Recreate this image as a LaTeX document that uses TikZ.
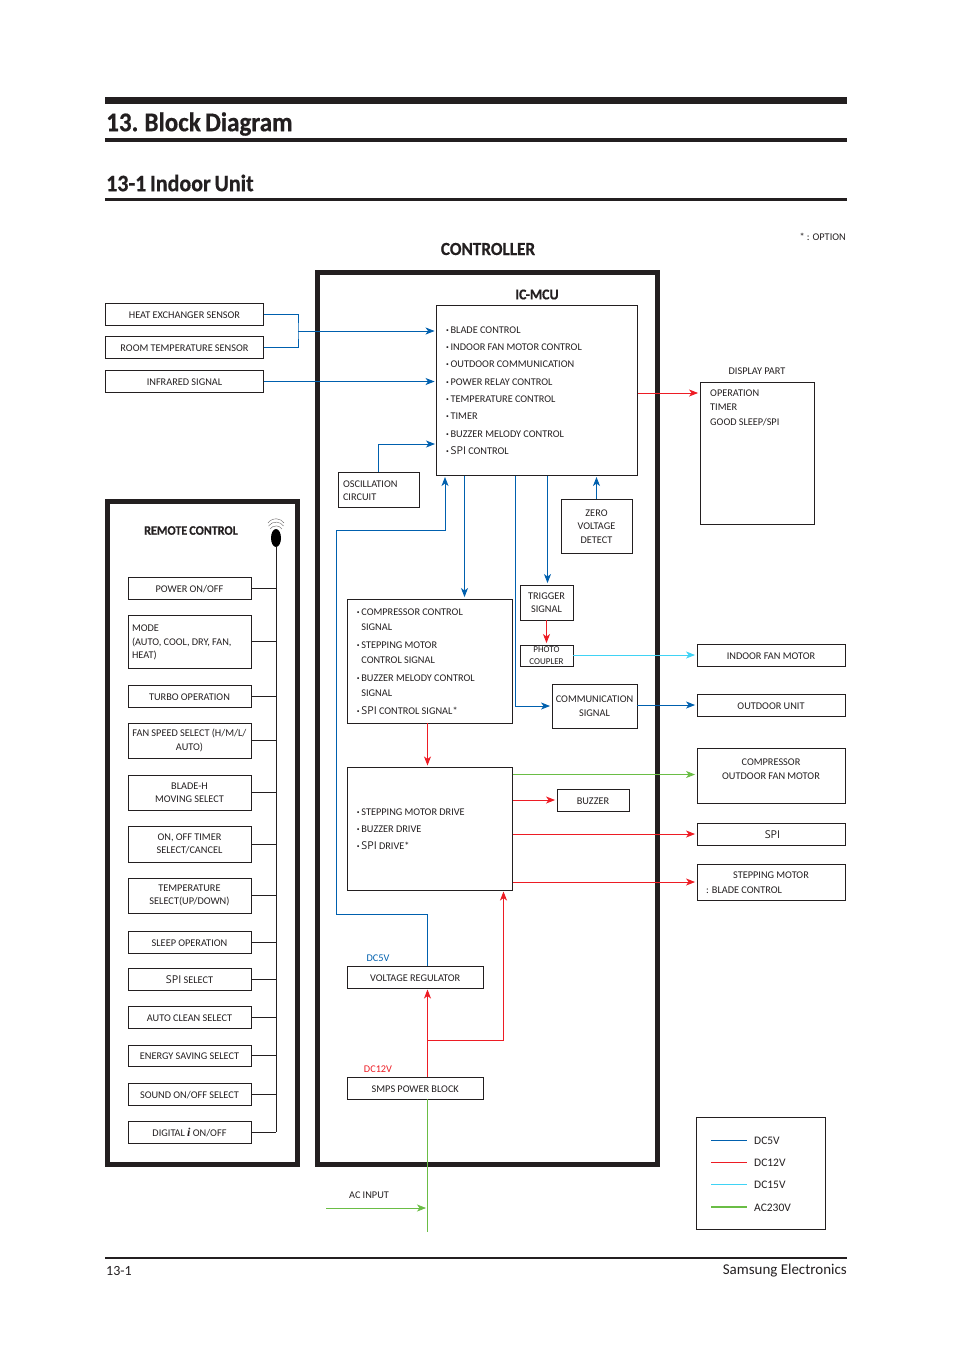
\documentclass[tikz,border=0pt]{standalone}
\usepackage{fontspec}
\setmainfont[WordSpace=0.95]{Carlito}
\newfontfamily\headfont[BoldFeatures={FakeStretch=0.93,FakeBold=0.5},WordSpace=0.75]{Carlito}
\newfontfamily\spifont{Open Sans}
\newfontfamily\serifi{Liberation Serif}
\usetikzlibrary{arrows.meta,shapes.geometric}

\definecolor{inkline}{HTML}{231F20}
\definecolor{dcfive}{HTML}{0060AE}
\definecolor{dctwelve}{HTML}{ED1C24}
\definecolor{dcfifteen}{HTML}{3FD3F5}
\definecolor{acline}{HTML}{6ABD45}

\newcommand{\spitxt}{{\spifont\fontsize{10.8}{12}\selectfont SPI}}
\newcommand{\itm}{\makebox[4.6pt][l]{\textbf{·}}}

\tikzset{
  sig/.style={line width=0.9pt,shorten >=1.5pt,-{Stealth[length=9pt,width=7pt,inset=2.5pt]}},
  lbl/.style={inner sep=0pt,text=inkline,font=\fontsize{10.3}{13.5}\selectfont},
  head lbl/.style={inner sep=0pt,text=inkline,font=\headfont\bfseries\fontsize{#1}{#1}\selectfont},
  flat node/.style={draw=inkline,line width=0.9pt,inner sep=1pt,align=center,text=inkline,font=\fontsize{10.3}{13.5}\selectfont},
  box node/.style={flat node,execute at begin node={\rule{0pt}{9pt}}},
  sensor node/.style={box node,minimum width=158pt,minimum height=22pt},
  remote node/.style={box node,minimum width=123pt},
  load node/.style={box node,minimum width=148pt},
  frame node/.style={draw=inkline,line width=5pt,inner sep=0pt},
  legend lbl/.style={lbl,anchor=west,font=\fontsize{11.5}{13}\selectfont,execute at begin node={\rule{0pt}{10pt}}},
  tap/.style={line width=0.9pt,draw=inkline}
}

\begin{document}
\begin{tikzpicture}[x=1pt,y=-1pt]
  \useasboundingbox (0,0) rectangle (954,1350);

  \fill[inkline] (105,97) rectangle (847,104);
  \fill[inkline] (105,138) rectangle (847,142);
  \fill[inkline] (105,197.5) rectangle (847,200.5);
  \fill[inkline] (105,1257.2) rectangle (847,1259.2);
  \node[head lbl=27,anchor=west] (title) at (106,124) {13. Block Diagram};
  \node[head lbl=23.6,anchor=west] (subtitle) at (106,183) {13-1 Indoor Unit};
  \node[lbl,anchor=west,font=\fontsize{14}{17}\selectfont] (pageno) at (106,1271) {13-1};
  \node[lbl,anchor=east,font=\fontsize{15}{17}\selectfont] (company) at (847,1271) {Samsung Electronics};
  \node[lbl,anchor=east] (option) at (846,237) {* : OPTION};

  \node[head lbl=18.5] (ctrltitle) at (488,249) {CONTROLLER};
  \node[frame node,minimum width=340pt,minimum height=892pt] (controller) at (487.5,718.5) {};
  \node[frame node,minimum width=190pt,minimum height=663pt] (remote) at (202.5,833) {};

  \node[sensor node] (heat) at (184.5,314.5) {HEAT EXCHANGER SENSOR};
  \node[sensor node] (room) at (184.5,347.5) {ROOM TEMPERATURE SENSOR};
  \node[sensor node] (infrared) at (184.5,381.5) {INFRARED SIGNAL};

  \node[head lbl=15] (mcutitle) at (537,294.5) {IC-MCU};
  \node[flat node,align=flush left,text width=182pt,inner xsep=9.5pt,inner ysep=0pt,minimum height=170pt,font=\fontsize{10.3}{17.3}\selectfont] (mcu) at (537,390.5) {\itm BLADE CONTROL\\
    \itm INDOOR FAN MOTOR CONTROL\\
    \itm OUTDOOR COMMUNICATION\\
    \itm POWER RELAY CONTROL\\
    \itm TEMPERATURE CONTROL\\
    \itm TIMER\\
    \itm BUZZER MELODY CONTROL\\
    \itm \spitxt\ CONTROL};
  \node[box node,align=flush left,text width=71pt,inner xsep=5pt,minimum height=35pt] (osc) at (378.5,489.5) {OSCILLATION\\CIRCUIT};
  \node[box node,minimum width=71pt,minimum height=54.5pt] (zero) at (596.5,526.5) {ZERO\\VOLTAGE\\DETECT};
  \node[box node,minimum width=53pt,minimum height=35pt] (trigger) at (546.5,602.5) {TRIGGER\\SIGNAL};
  \node[flat node,minimum width=53pt,minimum height=21.5pt,inner sep=0pt,font=\fontsize{9}{12}\selectfont] (photo) at (546.5,655.75) {PHOTO\\COUPLER};
  \node[box node,minimum width=85pt,minimum height=44pt] (comm) at (594.5,706) {COMMUNICATION\\SIGNAL};
  \node[box node,align=flush left,text width=146pt,inner xsep=9.75pt,inner ysep=0pt,minimum height=124pt,font=\fontsize{10.3}{15}\selectfont] (signals) at (429.75,661) {\itm COMPRESSOR CONTROL\\
    \hspace*{4.6pt}SIGNAL\\[3pt]
    \itm STEPPING MOTOR\\
    \hspace*{4.6pt}CONTROL SIGNAL\\[3pt]
    \itm BUZZER MELODY CONTROL\\
    \hspace*{4.6pt}SIGNAL\\[3pt]
    \itm \spitxt\ CONTROL SIGNAL*};
  \node[box node,align=flush left,text width=146pt,inner xsep=9.75pt,inner ysep=0pt,minimum height=123pt,font=\fontsize{10.3}{17}\selectfont] (drive) at (429.75,828.5) {\itm STEPPING MOTOR DRIVE\\
    \itm BUZZER DRIVE\\
    \itm \spitxt\ DRIVE*};
  \node[box node,minimum width=72pt,minimum height=22pt] (buzzer) at (593,800) {BUZZER};
  \node[box node,minimum width=136.5pt,minimum height=22pt] (regulator) at (415.25,977) {VOLTAGE REGULATOR};
  \node[box node,minimum width=136.5pt,minimum height=22pt] (smps) at (415.25,1088) {SMPS POWER BLOCK};
  \node[lbl,text=dcfive] (dcfivelbl) at (378,958) {DC5V};
  \node[lbl,text=dctwelve] (dctwelvelbl) at (378,1069) {DC12V};
  \node[lbl] (acinput) at (369,1195) {AC INPUT};

  \node[lbl] (displaylbl) at (757,371) {DISPLAY PART};
  \node[flat node,minimum width=114pt,minimum height=142pt] (display) at (757,453) {};
  \node[lbl,align=left,anchor=north west,font=\fontsize{10.3}{14.5}\selectfont] (displaytxt) at (710,389.5) {OPERATION\\TIMER\\GOOD SLEEP/SPI};
  \node[load node,minimum height=22pt] (fan) at (771,655) {INDOOR FAN MOTOR};
  \node[load node,minimum height=22pt] (outdoor) at (771,705) {OUTDOOR UNIT};
  \node[load node,minimum height=55pt] (compressor) at (771,775.5) {};
  \node[lbl,align=center,anchor=north] (compressortxt) at (771,759) {COMPRESSOR\\OUTDOOR FAN MOTOR};
  \node[load node,minimum height=22pt] (spi) at (771,834) {\hspace*{3pt}\spitxt};
  \node[load node,minimum height=36pt] (stepping) at (771,882) {};
  \node[lbl] (steppingtxt) at (771,875) {STEPPING MOTOR};
  \node[lbl,anchor=west] (bladetxt) at (706,890) {: BLADE CONTROL};

  \node[head lbl=13] (remotetitle) at (191,530.5) {REMOTE CONTROL};
  \node[remote node,minimum height=22pt] (power) at (189.5,588) {POWER ON/OFF};
  \node[remote node,align=flush left,text width=115pt,inner xsep=4pt,minimum height=53pt] (mode) at (189.5,641.5) {MODE\\(AUTO, COOL, DRY, FAN,\\HEAT)};
  \node[remote node,minimum height=22pt] (turbo) at (189.5,696) {TURBO OPERATION};
  \node[remote node,minimum height=35pt] (speed) at (189.5,740.5) {FAN SPEED SELECT (H/M/L/\\AUTO)};
  \node[remote node,minimum height=35pt] (blade) at (189.5,792.5) {BLADE-H\\MOVING SELECT};
  \node[remote node,minimum height=36pt] (timer) at (189.5,844) {ON, OFF TIMER\\SELECT/CANCEL};
  \node[remote node,minimum height=35pt] (temp) at (189.5,895.5) {TEMPERATURE\\SELECT(UP/DOWN)};
  \node[remote node,minimum height=22pt] (sleep) at (189.5,942) {SLEEP OPERATION};
  \node[remote node,minimum height=22pt] (spisel) at (189.5,979) {\spitxt\ SELECT};
  \node[remote node,minimum height=22pt] (auto) at (189.5,1017) {AUTO CLEAN SELECT};
  \node[remote node,minimum height=21pt] (energy) at (189.5,1055.5) {ENERGY SAVING SELECT};
  \node[remote node,minimum height=22pt] (sound) at (189.5,1094) {SOUND ON/OFF SELECT};
  \node[remote node,minimum height=22pt] (digital) at (189.5,1132) {DIGITAL {\serifi\bfseries\itshape\fontsize{12}{12}\selectfont i} ON/OFF};

  \node[ellipse,fill=black,minimum width=10pt,minimum height=18pt,inner sep=0pt] (irled) at (276,538) {};
  \coordinate (busend) at (276,1132);
  \draw[line width=0.4pt,inkline!70] (270,529) arc (215:325:7.3);
  \draw[line width=0.4pt,inkline!70] (268.5,526) arc (215:325:9.2);
  \draw[line width=0.4pt,inkline!70] (268,523) arc (215:325:9.8);

  \path (irled) [tap] edge (busend);
  \path (power) [tap] edge (power -| busend);
  \path (mode) [tap] edge (mode -| busend);
  \path (turbo) [tap] edge (turbo -| busend);
  \path (speed) [tap] edge (speed -| busend);
  \path (blade) [tap] edge (blade -| busend);
  \path (timer) [tap] edge (timer -| busend);
  \path (temp) [tap] edge (temp -| busend);
  \path (sleep) [tap] edge (sleep -| busend);
  \path (spisel) [tap] edge (spisel -| busend);
  \path (auto) [tap] edge (auto -| busend);
  \path (energy) [tap] edge (energy -| busend);
  \path (sound) [tap] edge (sound -| busend);
  \path (digital) [tap] edge (digital -| busend);

  \coordinate (mergeup) at (298,331);
  \coordinate (mcuin) at (mcu.west |- mergeup);
  \coordinate (mcuosc) at (436.5,444);
  \coordinate (mcufb) at (445,475.5);
  \coordinate (mcudown) at (464.5,475.5);
  \coordinate (mcucomm) at (515.5,475.5);
  \coordinate (mcutrig) at (547.5,475.5);
  \coordinate (mcuzero) at (596.5,475.5);
  \coordinate (regout) at (427.5,966);
  \coordinate (smpsup) at (427.5,1077);
  \coordinate (smpsdown) at (427.5,1099);
  \coordinate (acjoin) at (427.5,1208);
  \coordinate (acend) at (427.5,1232);
  \coordinate (acstart) at (326,1208);
  \coordinate (drivefeed) at (503.5,890);

  \draw[dcfive,line width=0.9pt] (heat.east) -| (mergeup) |- (room.east);
  \path (mergeup) [sig,dcfive] edge (mcuin);
  \path (infrared.east) [sig,dcfive] edge (mcu.west |- infrared.east);
  \draw[sig,dcfive] (osc.north) |- (mcuosc);
  \draw[sig,dcfive] (regout) -- (427.5,914) -- (336.5,914) -- (336.5,530) -- (445,530) -- (mcufb);
  \path (mcudown) [sig,dcfive] edge (mcudown |- signals.north);
  \draw[sig,dcfive] (mcucomm) |- (comm.west);
  \path (mcutrig) [sig,dcfive] edge (mcutrig |- trigger.north);
  \path (zero.north) [sig,dcfive] edge (mcuzero);
  \path (comm.east |- outdoor) [sig,dcfive] edge (outdoor.west);

  \path (mcu.east |- 0,393) [sig,dctwelve] edge (display.west |- 0,393);
  \path (trigger) [sig,dctwelve] edge (photo);
  \path (427.5,723) [sig,dctwelve] edge (427.5,767);
  \path (drive.east |- buzzer) [sig,dctwelve] edge (buzzer);
  \path (drive.east |- spi) [sig,dctwelve] edge (spi);
  \path (drive.east |- stepping) [sig,dctwelve] edge (stepping);
  \path (smpsup) [sig,dctwelve] edge (427.5,988);
  \draw[sig,dctwelve] (427.5,1040) -- (503.5,1040) -- (drivefeed);

  \path (photo.east |- fan) [sig,dcfifteen] edge (fan.west);
  \path (drive.east |- 0,774.5) [sig,acline] edge (compressor.west |- 0,774.5);
  \path (smpsdown) [acline,line width=0.7pt] edge (acend);
  \path (acstart) [sig,acline,line width=0.7pt] edge (acjoin);

  \node[flat node,minimum width=129pt,minimum height=112pt] (legend) at (761,1173) {};
  \node[legend lbl] (lgfive) at (754,1140) {DC5V};
  \node[legend lbl] (lgtwelve) at (754,1162) {DC12V};
  \node[legend lbl] (lgfifteen) at (754,1184) {DC15V};
  \node[legend lbl] (lgac) at (754,1207) {AC230V};
  \coordinate (lgx) at (711,0);
  \path (lgx |- lgfive) [dcfive,line width=0.9pt] edge (lgfive.west -| 747,0);
  \path (lgx |- lgtwelve) [dctwelve,line width=0.9pt] edge (lgtwelve.west -| 747,0);
  \path (lgx |- lgfifteen) [dcfifteen,line width=0.9pt] edge (lgfifteen.west -| 747,0);
  \path (lgx |- lgac) [acline,line width=1.4pt] edge (lgac.west -| 747,0);
\end{tikzpicture}
\end{document}
